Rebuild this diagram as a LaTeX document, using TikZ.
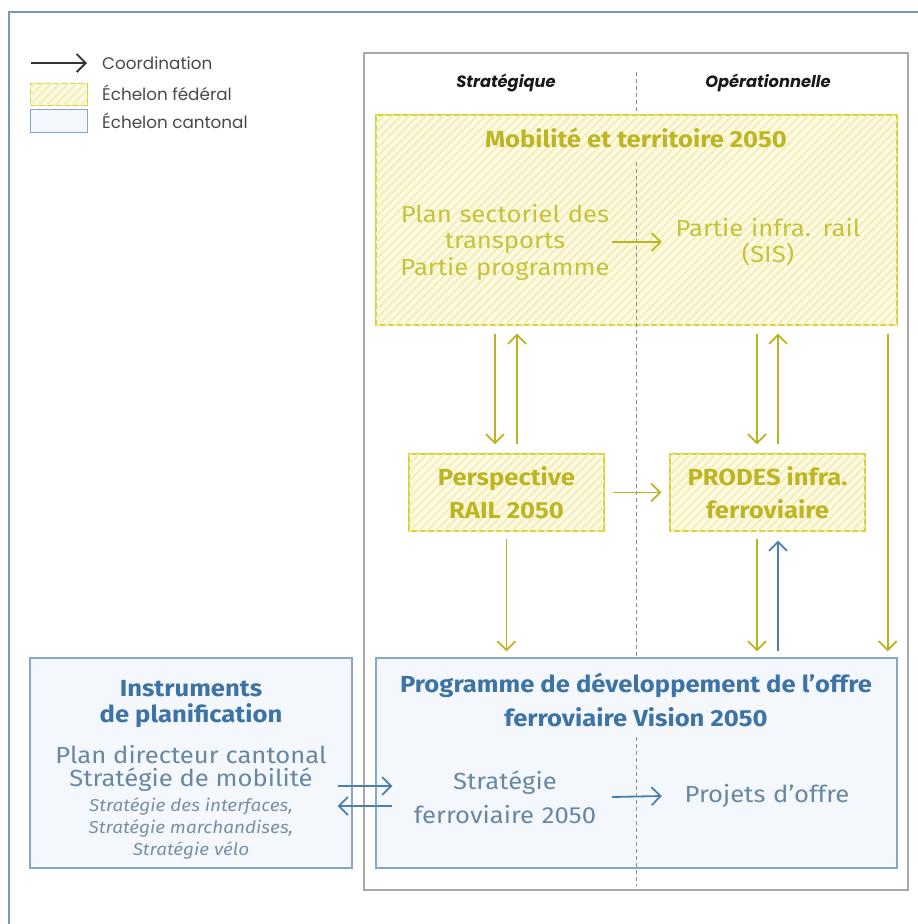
\documentclass[tikz,border=0pt]{standalone}
\usepackage{fontspec}
\setmainfont{Fira Sans}[FakeStretch=1.1]
\newfontfamily\pop{Poppins}
\usetikzlibrary{arrows.meta,patterns.meta,calc}
\definecolor{ytext}{HTML}{BDB524}
\definecolor{ybody}{HTML}{C6C23C}
\definecolor{yarrowc}{HTML}{BCB41E}
\definecolor{yborder}{HTML}{D8D23C}
\definecolor{yfillc}{HTML}{FDFBE4}
\definecolor{yhatch}{HTML}{F4EEB8}
\definecolor{btitle}{HTML}{3E73A6}
\definecolor{bbody}{HTML}{6787A3}
\definecolor{bital}{HTML}{7890A6}
\definecolor{bborder}{HTML}{86A8C8}
\definecolor{bfillc}{HTML}{F4F8FC}
\definecolor{barrowc}{HTML}{4A80AE}
\definecolor{frameblue}{HTML}{7A98B6}
\definecolor{framegray}{HTML}{A8A8A8}
\definecolor{legtext}{HTML}{4A4A4A}
\begin{document}
\begin{tikzpicture}[x=1pt,y=-1pt,
  ybox/.style={draw=yborder,line width=1.3pt,fill=yfillc,
    postaction={pattern={Lines[angle=45,distance=6pt,line width=2pt]},pattern color=yhatch}},
  bbox/.style={draw=bborder,line width=1.3pt,fill=bfillc},
  tip/.style={-{Straight Barb[length=9pt,width=18pt]}},
  yarr/.style={draw=yarrowc,line width=1.8pt,tip},
  barr/.style={draw=barrowc,line width=1.8pt,tip},
  legarr/.style={draw=black!80,line width=1.8pt,tip},
  dashline/.style={draw=gray!90,line width=0.8pt,dash pattern=on 3.5pt off 3.5pt},
  plain/.style={inner sep=0pt,align=center},
  legtxt/.style={inner sep=0pt,anchor=west,text=legtext,font=\pop\fontsize{16.8}{19}\selectfont},
  head/.style={inner sep=0pt,text=black!90,font=\pop\bfseries\itshape\fontsize{16.3}{19}\selectfont},
  ybold/.style={plain,text=ytext,font=\bfseries\fontsize{23.3}{33}\selectfont},
  ybodytxt/.style={plain,text=ybody,font=\fontsize{23.3}{26.5}\selectfont},
  bbold/.style={plain,text=btitle,font=\bfseries\fontsize{23.3}{34}\selectfont},
  bbodytxt/.style={plain,text=bbody,font=\fontsize{23.3}{34}\selectfont}
]
\useasboundingbox (0,0) rectangle (918,924);
\fill[white] (0,0) rectangle (918,924);

% outer frame
\coordinate (ofa) at (9,924);
\coordinate (ofb) at (9,12);
\coordinate (ofc) at (918,12);
\draw[frameblue,line width=2.2pt] (ofa) -- (ofb) -- (ofc);

% legend
\coordinate (la1) at (31,63);
\coordinate (la2) at (87,63);
\draw[legarr] (la1) -- (la2);
\node[legtxt] (lcoord) at (102,63) {Coordination};
\node[ybox,line width=1pt,minimum width=57pt,minimum height=22pt,inner sep=0pt] (lyb) at (58.5,94) {};
\node[legtxt] (lfed) at (102,93) {Échelon fédéral};
\node[bbox,line width=1pt,minimum width=57pt,minimum height=23pt,inner sep=0pt] (lbb) at (58.5,121) {};
\node[legtxt] (lcant) at (102,121) {Échelon cantonal};

% gray column frame
\node[draw=framegray,line width=1.2pt,minimum width=544pt,minimum height=837pt,inner sep=0pt] (colframe) at (636,471.5) {};

% headers
\node[head] (hstrat) at (506,83) {Stratégique};
\node[head] (hoper) at (768,83) {Opérationnelle};

% boxes
\node[ybox,minimum width=521pt,minimum height=210pt,inner sep=0pt] (mt) at (636.5,220) {};
\node[ybox,minimum width=195pt,minimum height=77pt,inner sep=0pt,align=center,text=ytext,
      font=\bfseries\fontsize{23.3}{33}\selectfont] (persp) at (506.5,492.5) {Perspective\\RAIL 2050};
\node[ybox,minimum width=195pt,minimum height=77pt,inner sep=0pt,align=center,text=ytext,
      font=\bfseries\fontsize{23.3}{33}\selectfont] (prodes) at (767.5,492.5) {PRODES infra.\\ferroviaire};
\node[bbox,minimum width=521pt,minimum height=210pt,inner sep=0pt] (prog) at (636.5,763) {};
\node[bbox,minimum width=322pt,minimum height=210pt,inner sep=0pt] (instr) at (191,763) {};

% dashed separator
\coordinate (d1) at (636,72);
\coordinate (d2) at (636,114);
\coordinate (d3) at (636,162);
\coordinate (d4) at (636,657);
\coordinate (d5) at (636,737);
\coordinate (d6) at (636,886);
\draw[dashline] (d1) -- (d2);
\draw[dashline] (d3) -- (d4);
\draw[dashline] (d5) -- (d6);

% texts in top box
\node[ybold] (mttitle) at (636,138) {Mobilité et territoire 2050};
\node[ybodytxt,text width=214pt] (ps) at (505,242) {Plan sectoriel des\\transports\\Partie programme};
\node[ybodytxt,text width=212pt] (sis) at (768,242) {Partie infra. rail\\(SIS)};
\draw[yarr] (ps.east) -- (sis.west);

% texts in blue programme box
\node[bbold] (progt) at (636,700) {Programme de développement de l’offre\\ferroviaire Vision 2050};
\node[bbodytxt,text width=214pt] (stf) at (505,797) {Stratégie\\ferroviaire 2050};
\node[bbodytxt,text width=210pt] (proj) at (767,796) {Projets d'offre};
\draw[barr] (stf.east) -- (proj.west);

% texts in instruments box
\node[plain,text=btitle,font=\bfseries\fontsize{23.3}{26}\selectfont] (instrt) at (191,704) {Instruments\\de planification};
\node[plain,text=bbody,font=\fontsize{23.3}{23}\selectfont] (instrb) at (191,768.5) {Plan directeur cantonal\\Stratégie de mobilité};
\node[plain,text=bital,font=\itshape\fontsize{17.2}{21.7}\selectfont] (instri) at (191,828.5) {Stratégie des interfaces,\\Stratégie marchandises,\\Stratégie vélo};

% arrows between top box and middle boxes
\draw[yarr] ($(persp.north|-mt.south)+(-11.5,8)$) -- ($(persp.north)+(-11.5,-9)$);
\draw[yarr] ($(persp.north)+(10.5,-9)$) -- ($(persp.north|-mt.south)+(10.5,8)$);
\draw[yarr] ($(prodes.north|-mt.south)+(-10.5,8)$) -- ($(prodes.north)+(-10.5,-9)$);
\draw[yarr] ($(prodes.north)+(10.5,-9)$) -- ($(prodes.north|-mt.south)+(10.5,8)$);
\draw[yarr] ($(mt.south east)+(-10,8)$) -- ($(prog.north east)+(-10,-6)$);

% middle row arrow
\draw[yarr,shorten <=8pt,shorten >=8pt] (persp.east) -- (prodes.west);

% arrows to programme box
\draw[yarr] ($(persp.south)+(0,7)$) -- ($(persp.south|-prog.north)+(0,-6)$);
\draw[yarr] ($(prodes.south)+(-10.5,7)$) -- ($(prodes.south|-prog.north)+(-10.5,-6)$);
\draw[barr] ($(prodes.south|-prog.north)+(10.5,-6)$) -- ($(prodes.south)+(10.5,9)$);

% arrows between instruments and programme
\draw[barr] ($(instr.east)+(-15,23)$) -- ($(prog.west)+(17,23)$);
\draw[barr] ($(prog.west)+(17,43)$) -- ($(instr.east)+(-15,43)$);
\end{tikzpicture}
\end{document}
